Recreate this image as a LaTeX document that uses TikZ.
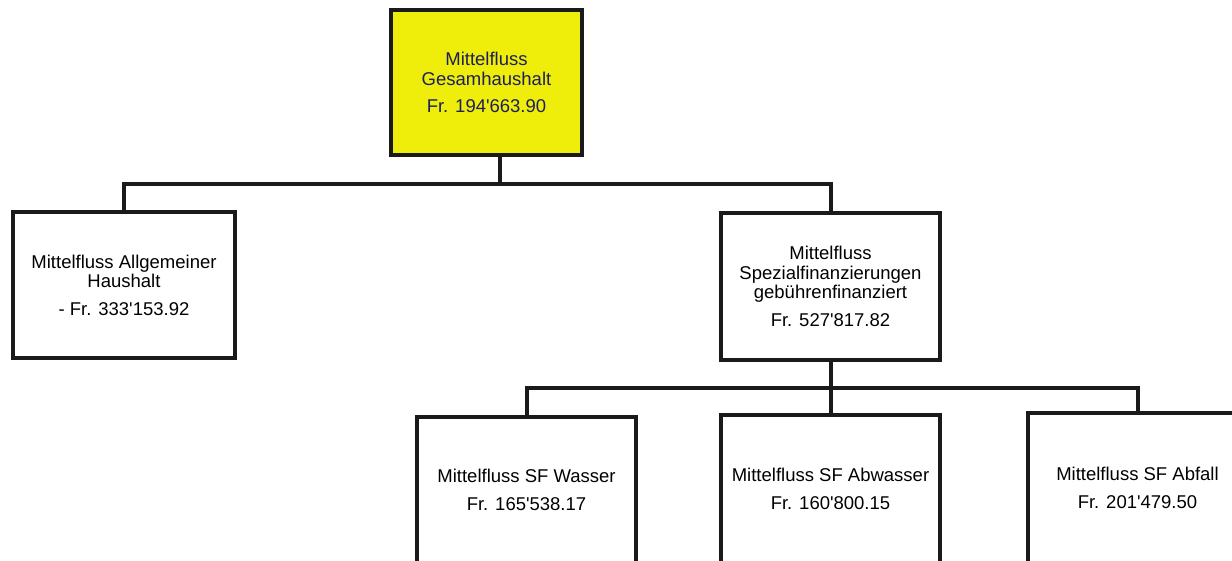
\documentclass[tikz,border=0pt]{standalone}
\usepackage{fontspec}
\setmainfont{Liberation Sans}[Ligatures=TeXOff]
\definecolor{boxline}{HTML}{1A1A1A}
\definecolor{topfill}{HTML}{EEEE0A}
\definecolor{toptext}{HTML}{1E1E5C}
\begin{document}
\begin{tikzpicture}[x=1pt,y=-1pt,
  orgbox/.style={draw=boxline,line width=4pt,fill=white,rectangle,inner sep=0pt,
    align=center,text=black,font=\fontsize{18.5}{19.5}\selectfont},
  link/.style={draw=boxline,line width=4pt}]
\useasboundingbox (0,0) rectangle (1232,560);
\clip (0,0) rectangle (1232,560);
\fill[white] (0,0) rectangle (1232,560);
\node[orgbox,fill=topfill,text=toptext,minimum width=191pt,minimum height=145pt] (top) at (486.5,82.5)
  {Mittelfluss\\Gesamhaushalt\\[8pt]Fr. 194'663.90};
\node[orgbox,minimum width=222pt,minimum height=146pt] (left) at (124,285)
  {Mittelfluss Allgemeiner\\Haushalt\\[8pt]- Fr. 333'153.92};
\node[orgbox,minimum width=219pt,minimum height=147pt] (sf) at (830.5,286.5)
  {Mittelfluss\\Spezialfinanzierungen\\gebührenfinanziert\\[8pt]Fr. 527'817.82};
\node[orgbox,minimum width=219pt,minimum height=146pt] (wasser) at (526.5,490)
  {Mittelfluss SF Wasser\\[8pt]Fr. 165'538.17};
\node[orgbox,minimum width=219pt,minimum height=148pt] (abw) at (830.5,489)
  {Mittelfluss SF Abwasser\\[8pt]Fr. 160'800.15};
\node[orgbox,minimum width=219pt,minimum height=150pt] (abf) at (1137.5,488)
  {Mittelfluss SF Abfall\\[8pt]Fr. 201'479.50};
\coordinate (bus1) at (500,184);
\coordinate (bus2) at (830.5,388);
\draw[link] (top.south -| bus1) -- (bus1);
\draw[link] (left.north) |- (bus1) -| (sf.north);
\draw[link] (sf.south) -- (bus2);
\draw[link] (wasser.north) |- (bus2) -| (abf.north);
\draw[link] (bus2) -- (abw.north);
\end{tikzpicture}
\end{document}
